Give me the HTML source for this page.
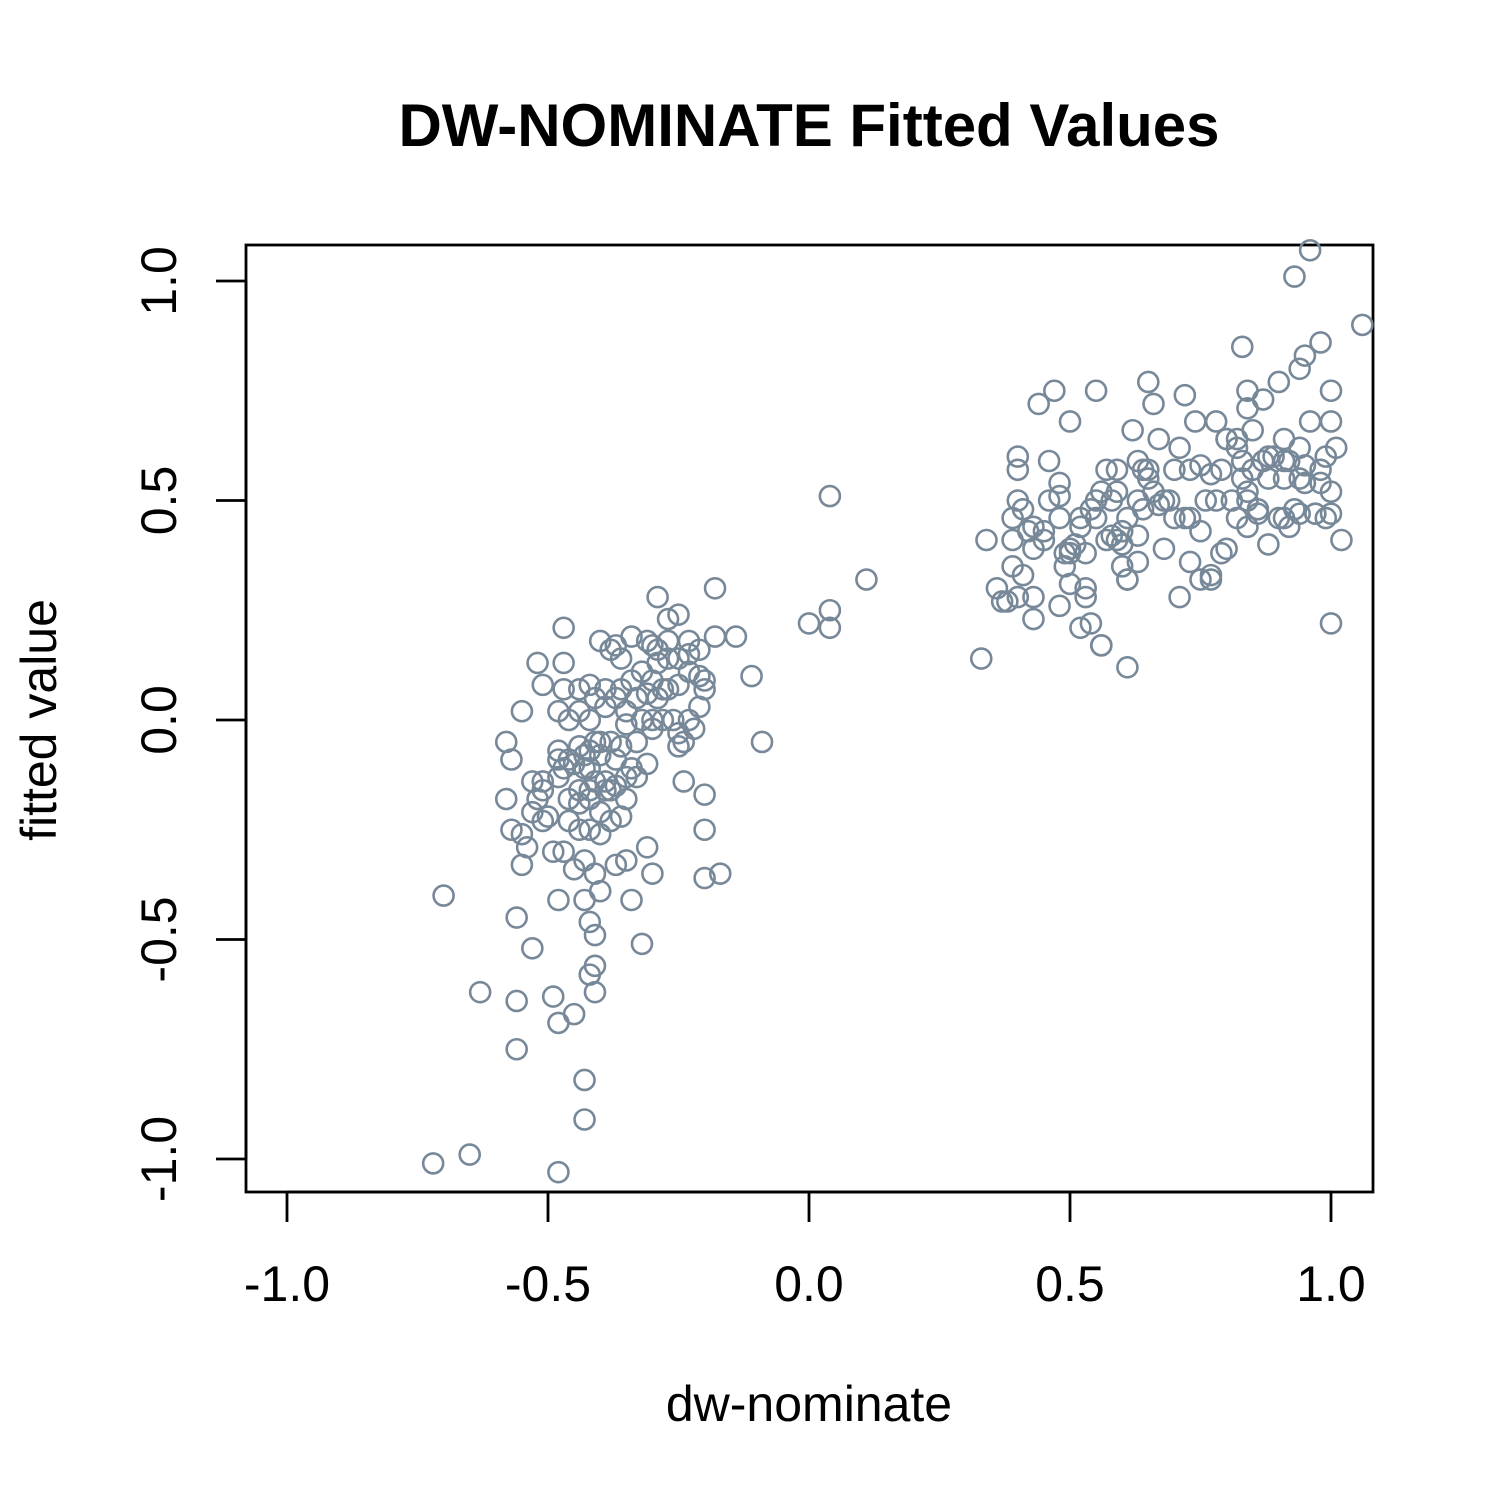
<!DOCTYPE html>
<html><head><meta charset="utf-8"><style>
html,body{margin:0;padding:0;background:#fff;}
svg{display:block;font-family:"Liberation Sans",Arial,sans-serif;}
</style></head><body>
<svg id="chart" width="1500" height="1500" viewBox="0 0 1500 1500">
<rect width="1500" height="1500" fill="#fff"/>
<text x="809" y="146" font-size="60" font-weight="bold" text-anchor="middle">DW-NOMINATE Fitted Values</text>
<rect x="246" y="245" width="1127" height="947" fill="none" stroke="#000" stroke-width="2.8"/>
<g id="xaxis"></g>
<g id="yaxis"></g>
<g id="points"></g>
<text x="809" y="1421" font-size="50" text-anchor="middle">dw-nominate</text>
<text transform="translate(56,720) rotate(-90)" font-size="50" text-anchor="middle">fitted value</text>
</svg>
<script>
const xTicks = [-1.0, -0.5, 0.0, 0.5, 1.0];
const xTickLabels = ["-1.0", "-0.5", "0.0", "0.5", "1.0"];
const yTicks = [-1.0, -0.5, 0.0, 0.5, 1.0];
const yTickLabels = ["-1.0", "-0.5", "0.0", "0.5", "1.0"];
const xVals = [
-0.72,-0.65,-0.48,-0.43,-0.43,-0.56,-0.63,-0.56,-0.49,-0.48,-0.45,-0.41,-0.41,-0.42,-0.41,-0.42,-0.53,-0.56,-0.70,-0.32,
-0.34,-0.48,-0.43,-0.40,-0.55,-0.49,-0.47,-0.45,-0.43,-0.41,-0.37,-0.35,-0.31,-0.30,-0.20,-0.17,-0.20,-0.20,-0.24,-0.57,
-0.54,-0.55,-0.58,-0.52,-0.50,-0.51,-0.53,-0.51,-0.48,-0.48,-0.46,-0.44,-0.42,-0.40,-0.38,-0.42,-0.44,-0.40,-0.36,-0.35,
-0.38,-0.39,-0.42,-0.45,-0.47,-0.43,-0.40,-0.37,-0.35,-0.33,-0.34,-0.31,-0.44,-0.42,-0.38,-0.40,-0.36,-0.33,-0.30,-0.35,
-0.32,-0.30,-0.28,-0.29,-0.27,-0.26,-0.25,-0.25,-0.24,-0.23,-0.22,-0.21,-0.20,-0.21,-0.20,-0.23,-0.25,-0.28,-0.30,-0.32,
-0.29,-0.27,-0.25,-0.23,-0.21,-0.18,-0.14,-0.11,-0.09,-0.18,-0.27,-0.29,-0.25,-0.23,-0.27,-0.29,-0.30,-0.31,-0.34,-0.37,
-0.40,-0.38,-0.36,-0.34,-0.36,-0.39,-0.42,-0.44,-0.47,-0.47,-0.51,-0.52,-0.47,-0.55,-0.58,-0.57,-0.53,-0.51,-0.48,-0.46,
-0.44,-0.42,-0.41,-0.39,-0.37,-0.35,-0.33,-0.31,-0.48,-0.46,-0.43,-0.41,-0.39,-0.37,-0.41,-0.42,-0.44,-0.46,
0.00,0.04,0.04,0.04,0.11,0.33,
0.34,0.36,0.37,0.38,0.39,0.40,0.40,0.40,0.40,0.39,0.41,0.42,0.43,0.43,0.43,0.44,0.45,0.46,0.47,0.48,
0.48,0.48,0.49,0.49,0.50,0.50,0.51,0.52,0.52,0.53,0.53,0.54,0.55,0.55,0.56,0.56,0.57,0.58,0.59,0.59,
0.60,0.60,0.61,0.61,0.61,0.62,0.63,0.64,0.65,0.65,0.66,0.67,0.68,0.69,0.70,0.71,0.71,0.72,0.72,0.73,
0.74,0.75,0.76,0.77,0.77,0.78,0.79,0.80,0.81,0.82,0.83,0.83,0.84,0.84,0.85,0.86,0.87,0.88,0.89,0.90,
0.91,0.92,0.93,0.94,0.95,0.96,0.97,0.98,0.99,1.00,1.01,1.00,1.02,0.93,0.96,0.95,0.98,0.90,0.87,0.94,
0.84,0.80,0.82,0.79,0.78,0.75,0.73,0.75,0.77,0.80,0.82,0.84,0.85,0.88,0.91,0.94,0.98,0.99,1.00,1.00,
0.97,0.94,0.91,0.88,0.86,0.84,0.83,0.67,0.65,0.63,0.61,0.60,0.58,0.56,0.54,0.52,0.50,0.48,0.46,0.45,
0.43,0.41,0.39,1.06,1.00,0.95,0.92,0.91,0.73,0.70,0.68,0.66,0.64,0.63,0.63,0.59,0.57,0.55,0.53,0.50
];
const yVals = [
-1.01,-0.99,-1.03,-0.91,-0.82,-0.75,-0.62,-0.64,-0.63,-0.69,-0.67,-0.62,-0.56,-0.58,-0.49,-0.46,-0.52,-0.45,-0.40,-0.51,
-0.41,-0.41,-0.41,-0.39,-0.33,-0.30,-0.30,-0.34,-0.32,-0.35,-0.33,-0.32,-0.29,-0.35,-0.36,-0.35,-0.25,-0.17,-0.14,-0.25,
-0.29,-0.26,-0.18,-0.18,-0.22,-0.23,-0.21,-0.16,-0.13,-0.09,-0.18,-0.16,-0.18,-0.21,-0.23,-0.25,-0.25,-0.26,-0.22,-0.18,
-0.16,-0.14,-0.11,-0.10,-0.11,-0.08,-0.08,-0.09,-0.13,-0.13,-0.11,-0.10,-0.06,-0.07,-0.05,-0.05,-0.06,-0.05,-0.02,-0.01,
0.00,0.00,0.00,0.05,0.07,0.00,-0.03,-0.06,-0.05,0.00,-0.02,0.03,0.07,0.10,0.09,0.11,0.08,0.07,0.09,0.11,
0.13,0.14,0.14,0.15,0.16,0.19,0.19,0.10,-0.05,0.30,0.23,0.28,0.24,0.18,0.18,0.16,0.17,0.18,0.19,0.17,
0.18,0.16,0.14,0.09,0.07,0.07,0.08,0.07,0.07,0.13,0.08,0.13,0.21,0.02,-0.05,-0.09,-0.14,-0.14,0.02,0.00,
0.02,0.00,0.05,0.03,0.05,0.02,0.05,0.06,-0.07,-0.09,-0.11,-0.14,-0.16,-0.15,-0.05,-0.16,-0.19,-0.23,
0.22,0.25,0.21,0.51,0.32,0.14,
0.41,0.30,0.27,0.27,0.41,0.28,0.60,0.50,0.57,0.35,0.33,0.43,0.23,0.44,0.28,0.72,0.41,0.59,0.75,0.54,
0.51,0.26,0.35,0.38,0.68,0.31,0.40,0.21,0.44,0.30,0.28,0.22,0.46,0.75,0.17,0.17,0.41,0.42,0.57,0.52,
0.35,0.40,0.12,0.32,0.32,0.66,0.59,0.48,0.55,0.77,0.72,0.64,0.39,0.50,0.57,0.28,0.62,0.74,0.46,0.57,
0.68,0.58,0.50,0.32,0.56,0.68,0.38,0.64,0.50,0.64,0.55,0.85,0.75,0.50,0.66,0.47,0.59,0.60,0.60,0.46,
0.59,0.44,0.48,0.62,0.58,0.68,0.47,0.54,0.46,0.75,0.62,0.68,0.41,1.01,1.07,0.83,0.86,0.77,0.73,0.80,
0.71,0.64,0.62,0.57,0.50,0.43,0.36,0.32,0.33,0.39,0.46,0.52,0.57,0.55,0.55,0.55,0.57,0.60,0.52,0.47,
0.47,0.47,0.46,0.40,0.48,0.44,0.59,0.49,0.57,0.50,0.46,0.43,0.50,0.52,0.48,0.46,0.39,0.46,0.50,0.43,
0.39,0.48,0.46,0.90,0.22,0.54,0.59,0.64,0.46,0.46,0.50,0.52,0.57,0.42,0.36,0.41,0.57,0.50,0.38,0.38
];
const NS = "http://www.w3.org/2000/svg";
function xScale(v){ return 809 + v * 522; }
function yScale(v){ return 720 - v * 439; }
const xg = document.getElementById('xaxis');
const yg = document.getElementById('yaxis');
const pg = document.getElementById('points');
let l = document.createElementNS(NS,'line');
l.setAttribute('x1', xScale(xTicks[0])); l.setAttribute('x2', xScale(xTicks[xTicks.length-1]));
l.setAttribute('y1', 1192); l.setAttribute('y2', 1192);
l.setAttribute('stroke','#000'); l.setAttribute('stroke-width','2.8');


xg.appendChild(l);
xTicks.forEach((t,i)=>{
  const tk = document.createElementNS(NS,'line');
  tk.setAttribute('x1', xScale(t)); tk.setAttribute('x2', xScale(t));
  tk.setAttribute('y1', 1192); tk.setAttribute('y2', 1222);
  tk.setAttribute('stroke','#000'); tk.setAttribute('stroke-width','2.8');
  
  
  xg.appendChild(tk);
  const tx = document.createElementNS(NS,'text');
  tx.setAttribute('x', xScale(t)); tx.setAttribute('y', 1301);
  tx.setAttribute('font-size','50'); tx.setAttribute('text-anchor','middle');
  tx.textContent = xTickLabels[i];
  
  
  xg.appendChild(tx);
});
let yl = document.createElementNS(NS,'line');
yl.setAttribute('x1', 246); yl.setAttribute('x2', 246);
yl.setAttribute('y1', yScale(yTicks[0])); yl.setAttribute('y2', yScale(yTicks[yTicks.length-1]));
yl.setAttribute('stroke','#000'); yl.setAttribute('stroke-width','2.8');


yg.appendChild(yl);
yTicks.forEach((t,i)=>{
  const tk = document.createElementNS(NS,'line');
  tk.setAttribute('x1', 216); tk.setAttribute('x2', 246);
  tk.setAttribute('y1', yScale(t)); tk.setAttribute('y2', yScale(t));
  tk.setAttribute('stroke','#000'); tk.setAttribute('stroke-width','2.8');
  
  
  yg.appendChild(tk);
  const tx = document.createElementNS(NS,'text');
  tx.setAttribute('transform', 'translate(176,' + yScale(t) + ') rotate(-90)');
  tx.setAttribute('font-size','50'); tx.setAttribute('text-anchor','middle');
  tx.textContent = yTickLabels[i];
  
  
  yg.appendChild(tx);
});
xVals.forEach((xv,i)=>{
  const c = document.createElementNS(NS,'circle');
  c.setAttribute('cx', xScale(xv)); c.setAttribute('cy', yScale(yVals[i]));
  c.setAttribute('r', 10);
  c.setAttribute('fill','none'); c.setAttribute('stroke','#778899'); c.setAttribute('stroke-width','2.6');
  
  
  pg.appendChild(c);
});
</script>
</body></html>
